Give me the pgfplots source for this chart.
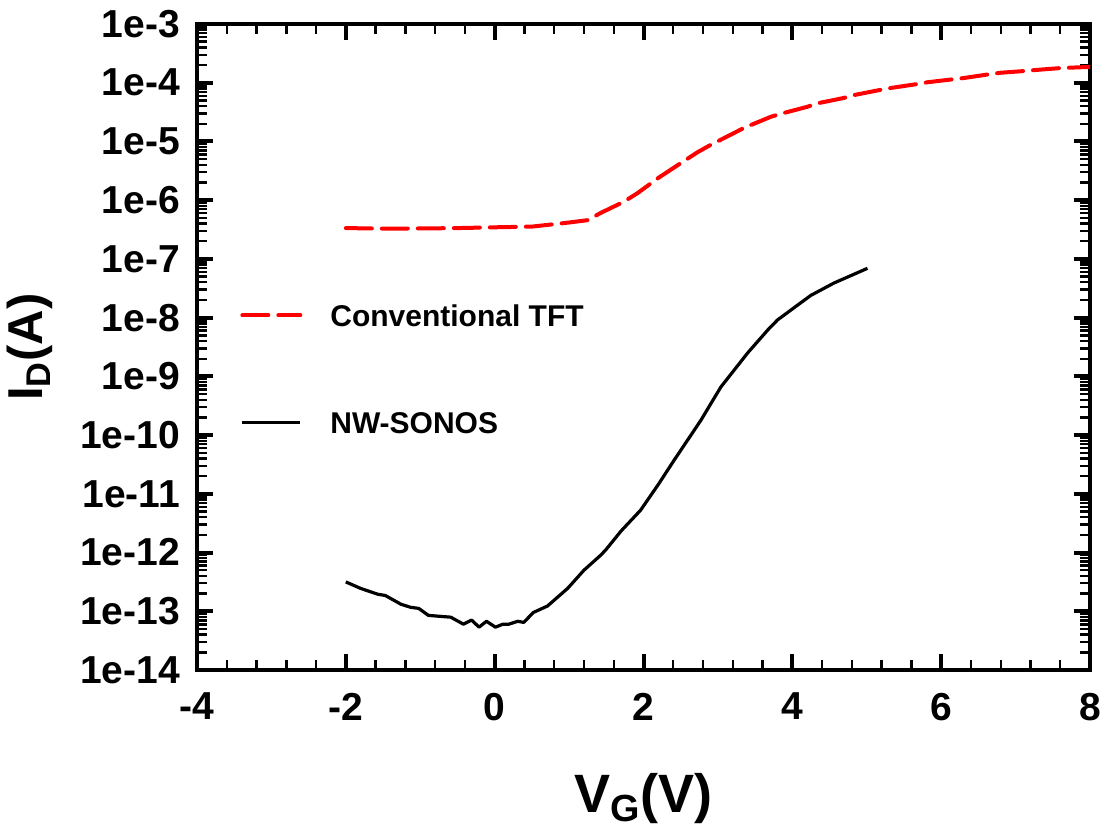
\documentclass[border=0pt]{standalone}
\usepackage{fontspec}
\setmainfont{Liberation Sans}
\usepackage{pgfplots}
\pgfplotsset{compat=1.18}
\begin{document}
\begin{tikzpicture}
\begin{axis}[
  scale only axis,
  width=446.5bp, height=323bp,
  xmin=-4, xmax=8,
  ymode=log, ymin=1e-14, ymax=1e-3,
  xtick={-4,-2,0,2,4,6,8},
  xticklabels={-4,-2,0,2,4,6,8},
  minor x tick num=4,
  ytick={1e-14,1e-13,1e-12,1e-11,1e-10,1e-9,1e-8,1e-7,1e-6,1e-5,1e-4,1e-3},
  yticklabels={1e-14,1e-13,1e-12,1e-11,1e-10,1e-9,1e-8,1e-7,1e-6,1e-5,1e-4,1e-3},
  minor ytick={2e-14,3e-14,4e-14,5e-14,6e-14,7e-14,8e-14,9e-14,
    2e-13,3e-13,4e-13,5e-13,6e-13,7e-13,8e-13,9e-13,
    2e-12,3e-12,4e-12,5e-12,6e-12,7e-12,8e-12,9e-12,
    2e-11,3e-11,4e-11,5e-11,6e-11,7e-11,8e-11,9e-11,
    2e-10,3e-10,4e-10,5e-10,6e-10,7e-10,8e-10,9e-10,
    2e-9,3e-9,4e-9,5e-9,6e-9,7e-9,8e-9,9e-9,
    2e-8,3e-8,4e-8,5e-8,6e-8,7e-8,8e-8,9e-8,
    2e-7,3e-7,4e-7,5e-7,6e-7,7e-7,8e-7,9e-7,
    2e-6,3e-6,4e-6,5e-6,6e-6,7e-6,8e-6,9e-6,
    2e-5,3e-5,4e-5,5e-5,6e-5,7e-5,8e-5,9e-5,
    2e-4,3e-4,4e-4,5e-4,6e-4,7e-4,8e-4,9e-4},
  tick align=inside,
  major tick length=8bp, minor tick length=5bp,
  axis line style={line width=2.2bp},
  major tick style={line width=2bp, black},
  minor tick style={line width=1.2bp, black},
  tick label style={font=\bfseries\fontsize{19.5bp}{23bp}\selectfont},
  xticklabel style={yshift=-8bp},
  yticklabel style={xshift=-5bp},
  xlabel={V\textsubscript{G}(V)},
  ylabel={I\textsubscript{D}(A)},
  xlabel style={font=\bfseries\fontsize{27bp}{32bp}\selectfont, at={(axis description cs:0.5,-0.2198)}, anchor=base},
  ylabel style={font=\bfseries\fontsize{24.5bp}{29bp}\selectfont, at={(axis description cs:-0.187,0.5)}, anchor=center},
  legend style={draw=none, fill=none, at={(rel axis cs:0.0414,0.573)}, anchor=north west,
    nodes={inner sep=0pt, text height=11bp, text depth=0pt, font=\bfseries\fontsize{15bp}{18bp}\selectfont},
    row sep=42.5bp, column sep=14bp},
  legend cell align=left,
  legend image code/.code={\draw[#1] (0bp,0bp) -- (29bp,0bp);},
]
\addplot[red, line width=2bp, line cap=round, dash pattern=on 13bp off 5bp] coordinates {
(-2.0,3.35e-7) (-1.5,3.28e-7) (-1.0,3.30e-7) (-0.5,3.35e-7) (0.08,3.47e-7)
(0.5,3.55e-7) (0.93,4.07e-7) (1.25,4.57e-7) (1.42,6.03e-7) (1.73,9.33e-7)
(1.92,1.32e-6) (2.2,2.40e-6) (2.5,4.27e-6) (2.73,6.61e-6) (2.90,8.71e-6)
(3.21,1.38e-5) (3.35,1.70e-5) (3.71,2.63e-5) (3.84,2.95e-5) (4.2,3.89e-5)
(4.34,4.47e-5) (4.69,5.50e-5) (4.83,6.17e-5) (5.19,7.59e-5) (5.32,8.13e-5)
(5.69,9.55e-5) (5.82,1.02e-4) (6.17,1.15e-4) (6.3,1.20e-4) (6.67,1.41e-4)
(6.8,1.48e-4) (7.11,1.58e-4) (7.3,1.66e-4) (7.61,1.78e-4) (8.0,1.86e-4)
};
\addlegendentry{Conventional TFT}
\addplot[black, line width=1.6bp, line join=round] coordinates {
(-2.0,3.16e-13) (-1.80,2.45e-13) (-1.57,1.95e-13) (-1.47,1.86e-13) (-1.26,1.32e-13)
(-1.13,1.17e-13) (-1.02,1.12e-13) (-0.89,8.51e-14) (-0.59,7.94e-14) (-0.42,6.03e-14)
(-0.31,7.08e-14) (-0.21,5.37e-14) (-0.11,6.76e-14) (0.01,5.37e-14) (0.11,6.03e-14)
(0.19,6.03e-14) (0.31,6.76e-14) (0.39,6.46e-14) (0.52,9.55e-14) (0.71,1.23e-13)
(0.98,2.45e-13) (1.2,5.01e-13) (1.42,8.91e-13) (1.49,1.10e-12) (1.7,2.34e-12)
(1.96,5.25e-12) (2.2,1.45e-11) (2.41,3.72e-11) (2.6,8.5e-11) (2.77,1.78e-10) (3.04,6.61e-10)
(3.40,2.51e-9) (3.67,6.17e-9) (3.80,9.12e-9) (4.11,1.78e-8) (4.25,2.40e-8)
(4.56,3.89e-8) (5.01,6.92e-8)
};
\addlegendentry{NW-SONOS}
\end{axis}
\pgfresetboundingbox
\path ([shift={(-98.5bp,-79bp)}]current axis.south west) rectangle ([shift={(8bp,12bp)}]current axis.north east);
\end{tikzpicture}
\end{document}
